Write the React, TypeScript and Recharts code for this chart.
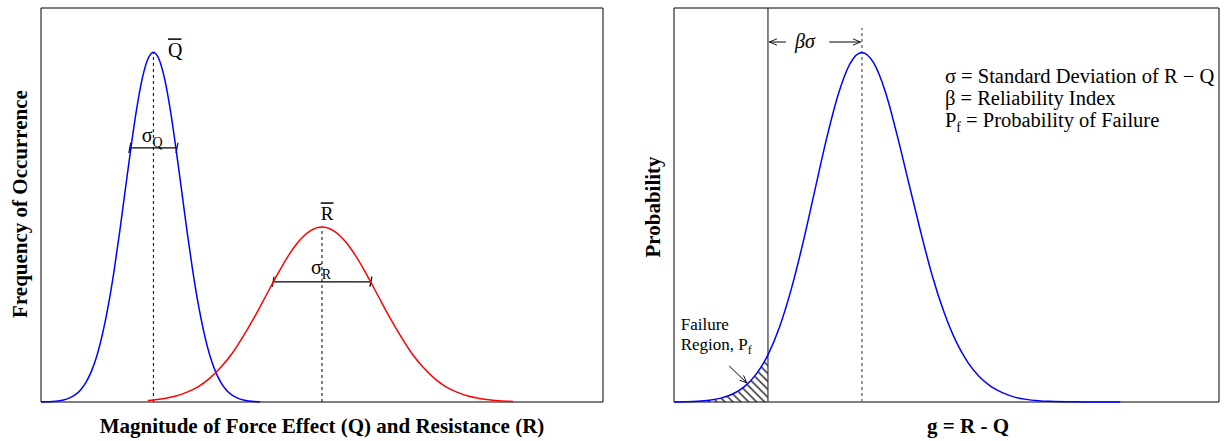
import React from "react";
import {
  ComposedChart,
  Line,
  Area,
  XAxis,
  YAxis,
  ReferenceLine,
  ReferenceArea,
  ReferenceDot,
} from "recharts";

// ---------- Left panel data (arbitrary magnitude units 0-100) ----------
const qX = [0, 1, 2, 3, 4, 5, 6, 7, 8, 9, 10, 11, 12, 13, 14, 15, 16, 17, 18, 19, 20, 21, 22, 23, 24, 25, 26, 27, 28, 29, 30, 31, 32, 33, 34, 35, 36, 37, 38, 39];
const qFreq = [0.03, 0.06, 0.14, 0.27, 0.53, 0.99, 1.76, 3.0, 4.99, 7.9, 12.0, 17.6, 24.7, 33.3, 43.2, 53.9, 64.5, 74.2, 82.0, 87.0, 88.8, 87.0, 82.0, 74.2, 64.5, 53.9, 43.2, 33.3, 24.7, 17.6, 12.0, 7.9, 4.99, 3.0, 1.76, 0.99, 0.53, 0.27, 0.14, 0.06];

const rX = [19, 20, 22, 24, 26, 28, 30, 32, 34, 36, 38, 40, 42, 44, 46, 48, 50, 52, 54, 56, 58, 60, 62, 64, 66, 68, 70, 72, 74, 76, 78, 80, 82, 84];
const rFreq = [0.36, 0.5, 0.9, 1.5, 2.5, 3.9, 6.0, 8.8, 12.3, 16.7, 21.6, 26.9, 32.2, 37.1, 41.0, 43.5, 44.4, 43.5, 41.0, 37.1, 32.2, 26.9, 21.6, 16.7, 12.3, 8.8, 6.0, 3.9, 2.5, 1.5, 0.9, 0.5, 0.27, 0.14];

const qMean = 20;
const qPeak = 88.8;
const rMean = 50;
const rPeak = 44.4;
const qSigmaBar = [15.8, 24.2];
const qSigmaY = 64.5;
const rSigmaBar = [41.3, 58.7];
const rSigmaY = 30.5;

// ---------- Right panel data (g = R - Q in units of sigma) ----------
const gX = [-2, -1.75, -1.5, -1.25, -1, -0.75, -0.5, -0.25, 0, 0.25, 0.5, 0.75, 1, 1.25, 1.5, 1.75, 2, 2.25, 2.5, 2.75, 3, 3.25, 3.5, 3.75, 4, 4.25, 4.5, 4.75, 5, 5.25, 5.5, 5.75, 6, 6.5, 7, 7.5];
const gProb = [0.0003, 0.0009, 0.0022, 0.0051, 0.0111, 0.0228, 0.0439, 0.0796, 0.135, 0.216, 0.325, 0.458, 0.607, 0.755, 0.882, 0.969, 1.0, 0.97, 0.887, 0.763, 0.625, 0.487, 0.36, 0.256, 0.174, 0.114, 0.072, 0.044, 0.026, 0.014, 0.0075, 0.0038, 0.0018, 0.0004, 0.0001, 0];
const failureLimit = 0;
const gMean = 2;
const gDomain = [-2, 9.6];
const gYMax = 1.1273;

const legendLines = ["σ = Standard Deviation of R − Q", "β = Reliability Index", "Probability of Failure"];

// ---------- tables built from the arrays ----------
const leftMap = new Map<number, any>();
qX.forEach((x, i) => leftMap.set(x, { ...(leftMap.get(x) || { x }), q: qFreq[i] }));
rX.forEach((x, i) => leftMap.set(x, { ...(leftMap.get(x) || { x }), r: rFreq[i] }));
const leftTable = Array.from(leftMap.values()).sort((a, b) => a.x - b.x);

const rightTable = gX.map((g, i) => ({
  g,
  p: gProb[i],
  hatch: g <= failureLimit ? gProb[i] : undefined,
}));

const SERIF = "'Liberation Serif', 'Times New Roman', serif";

const note = (key: string, x: number, y: number, render: (px: number, py: number) => React.ReactNode) => (
  <ReferenceDot
    key={key}
    x={x}
    y={y}
    r={0}
    fill="none"
    stroke="none"
    ifOverflow="visible"
    label={{
      content: (p: any) => {
        const vb = p.viewBox || {};
        return <g>{render(vb.x ?? 0, vb.y ?? 0)}</g>;
      },
    }}
  />
);

const arrowShape = (p: any) => (
  <line x1={p.x1} y1={p.y1} x2={p.x2} y2={p.y2} stroke="#000" strokeWidth={1} markerEnd="url(#arrowOpen)" />
);

const arrowDefs = (
  <defs>
    <marker id="arrowOpen" viewBox="0 0 10 10" refX="9.5" refY="5" markerWidth="8" markerHeight="8" orient="auto" markerUnits="userSpaceOnUse">
      <path d="M0,1 L9.5,5 L0,9" fill="none" stroke="#000" strokeWidth="1.1" />
    </marker>
    <pattern id="hatch" patternUnits="userSpaceOnUse" width="5.6" height="5.6" patternTransform="rotate(-45)">
      <line x1="2.8" y1="0" x2="2.8" y2="5.6" stroke="#000" strokeWidth="1.2" />
    </pattern>
  </defs>
);

const tick = (key: string, x: number, y: number, dx: number) => (
  <ReferenceLine
    key={key}
    segment={[{ x: x - dx, y: y - 1.3 }, { x: x + dx, y: y + 1.3 }]}
    stroke="#000"
    strokeWidth={1.2}
    ifOverflow="visible"
  />
);

export default function App() {
  return (
    <div style={{ position: "absolute", left: 0, top: 0, width: 1231, height: 441, background: "#fff" }}>
      {/* LEFT PANEL */}
      <div style={{ position: "absolute", left: 0, top: 0 }}>
        <ComposedChart width={610} height={441} data={leftTable} margin={{ top: 8, right: 7, left: 0, bottom: 0 }}>
          {arrowDefs}
          <XAxis
            type="number"
            dataKey="x"
            domain={[0, 100]}
            tick={false}
            tickLine={false}
            axisLine={false}
            height={39}
            label={{
              content: () => (
                <text x={322} y={433} textAnchor="middle" fontFamily={SERIF} fontWeight="bold" fontSize={21} fill="#000">
                  Magnitude of Force Effect (Q) and Resistance (R)
                </text>
              ),
            }}
          />
          <YAxis
            type="number"
            domain={[0, 100]}
            width={41}
            tick={false}
            tickLine={false}
            axisLine={false}
            label={{
              content: () => (
                <text x={26.5} y={204} transform="rotate(-90 26.5 204)" textAnchor="middle" fontFamily={SERIF} fontWeight="bold" fontSize={21} fill="#000">
                  Frequency of Occurrence
                </text>
              ),
            }}
          />
          <ReferenceArea x1={0} x2={100} y1={0} y2={100} fill="none" stroke="#000" strokeWidth={1} ifOverflow="visible" />
          <ReferenceLine segment={[{ x: qMean, y: 0 }, { x: qMean, y: qPeak }]} stroke="#000" strokeDasharray="3 3" strokeWidth={1} />
          <ReferenceLine segment={[{ x: rMean, y: 0 }, { x: rMean, y: rPeak }]} stroke="#000" strokeDasharray="3 3" strokeWidth={1} />
          <ReferenceLine segment={[{ x: qSigmaBar[0], y: qSigmaY }, { x: qSigmaBar[1], y: qSigmaY }]} stroke="#000" strokeWidth={1.2} />
          <ReferenceLine segment={[{ x: rSigmaBar[0], y: rSigmaY }, { x: rSigmaBar[1], y: rSigmaY }]} stroke="#000" strokeWidth={1.2} />
          {tick("t1", qSigmaBar[0], qSigmaY, 0.18)}
          {tick("t2", qSigmaBar[1], qSigmaY, 0.18)}
          {tick("t3", rSigmaBar[0], rSigmaY, 0.18)}
          {tick("t4", rSigmaBar[1], rSigmaY, 0.18)}
          <Line type="monotone" dataKey="q" stroke="#0000ff" strokeWidth={1.5} dot={false} activeDot={false} connectNulls isAnimationActive={false} />
          <Line type="monotone" dataKey="r" stroke="#ff0000" strokeWidth={1.5} dot={false} activeDot={false} connectNulls isAnimationActive={false} />
          {note("qbar", qMean, qPeak, (x, y) => (
            <>
              <line x1={x + 14.6} x2={x + 28} y1={y - 13} y2={y - 13} stroke="#000" strokeWidth={1.5} />
              <text x={x + 14.6} y={y + 5} fontFamily={SERIF} fontSize={20} fill="#000">Q</text>
            </>
          ))}
          {note("rbar", rMean, rPeak, (x, y) => (
            <>
              <line x1={x - 1.3} x2={x + 11.5} y1={y - 24} y2={y - 24} stroke="#000" strokeWidth={1.5} />
              <text x={x - 1.3} y={y - 7} fontFamily={SERIF} fontSize={19} fill="#000">R</text>
            </>
          ))}
          {note("sq", qMean, qSigmaY, (x, y) => (
            <text x={x - 11.7} y={y - 6} fontFamily={SERIF} fontSize={20} fill="#000">
              σ<tspan fontSize={14} dy={5}>Q</tspan>
            </text>
          ))}
          {note("sr", rMean, rSigmaY, (x, y) => (
            <text x={x - 11} y={y - 8} fontFamily={SERIF} fontSize={20} fill="#000">
              σ<tspan fontSize={14} dy={5}>R</tspan>
            </text>
          ))}
        </ComposedChart>
      </div>

      {/* RIGHT PANEL */}
      <div style={{ position: "absolute", left: 620, top: 0 }}>
        <ComposedChart width={611} height={441} data={rightTable} margin={{ top: 8, right: 12, left: 0, bottom: 0 }}>
          {arrowDefs}
          <XAxis
            type="number"
            dataKey="g"
            domain={gDomain}
            tick={false}
            tickLine={false}
            axisLine={false}
            height={39}
            label={{
              content: () => (
                <text x={348} y={433} textAnchor="middle" fontFamily={SERIF} fontWeight="bold" fontSize={21} fill="#000">
                  g = R - Q
                </text>
              ),
            }}
          />
          <YAxis
            type="number"
            domain={[0, gYMax]}
            width={54}
            tick={false}
            tickLine={false}
            axisLine={false}
            label={{
              content: () => (
                <text x={40} y={207} transform="rotate(-90 40 207)" textAnchor="middle" fontFamily={SERIF} fontWeight="bold" fontSize={21} fill="#000">
                  Probability
                </text>
              ),
            }}
          />
          <ReferenceArea x1={gDomain[0]} x2={gDomain[1]} y1={0} y2={gYMax} fill="none" stroke="#000" strokeWidth={1} ifOverflow="visible" />
          <Area type="monotone" dataKey="hatch" fill="url(#hatch)" fillOpacity={1} stroke="none" baseValue={0} dot={false} activeDot={false} isAnimationActive={false} />
          <ReferenceLine x={failureLimit} stroke="#333" strokeWidth={1.2} />
          <ReferenceLine segment={[{ x: gMean, y: 0 }, { x: gMean, y: 1.07 }]} stroke="#777" strokeDasharray="3 3" strokeWidth={1.5} />
          <Line type="monotone" dataKey="p" stroke="#0000ff" strokeWidth={1.5} dot={false} activeDot={false} connectNulls isAnimationActive={false} />
          <ReferenceLine segment={[{ x: 0.383, y: 1.03 }, { x: 0.03, y: 1.03 }]} ifOverflow="visible" shape={arrowShape} />
          <ReferenceLine segment={[{ x: 1.304, y: 1.03 }, { x: 1.97, y: 1.03 }]} ifOverflow="visible" shape={arrowShape} />
          <ReferenceLine segment={[{ x: -0.823, y: 0.103 }, { x: -0.45, y: 0.0545 }]} ifOverflow="visible" shape={arrowShape} />
          {note("bs", 1, 1.03, (x, y) => (
            <text x={x - 20} y={y + 6} fontFamily={SERIF} fontStyle="italic" fontSize={20} fill="#000">βσ</text>
          ))}
          {note("fail", -0.823, 0.103, (x, y) => (
            <>
              <text x={x - 48.6} y={y - 36} fontFamily={SERIF} fontSize={17} fill="#000">Failure</text>
              <text x={x - 48.6} y={y - 16} fontFamily={SERIF} fontSize={17} fill="#000">
                Region, P<tspan fontSize={12} dy={4}>f</tspan>
              </text>
            </>
          ))}
          {note("legend", 3.766, 0.9136, (x, y) => (
            <>
              <text x={x} y={y} fontFamily={SERIF} fontSize={20.5} fill="#000">{legendLines[0]}</text>
              <text x={x} y={y + 22.3} fontFamily={SERIF} fontSize={20.5} fill="#000">{legendLines[1]}</text>
              <text x={x} y={y + 44.3} fontFamily={SERIF} fontSize={20.5} fill="#000">
                P<tspan fontSize={14} dy={5}>f</tspan>
                <tspan dy={-5}> = {legendLines[2]}</tspan>
              </text>
            </>
          ))}
        </ComposedChart>
      </div>
    </div>
  );
}
